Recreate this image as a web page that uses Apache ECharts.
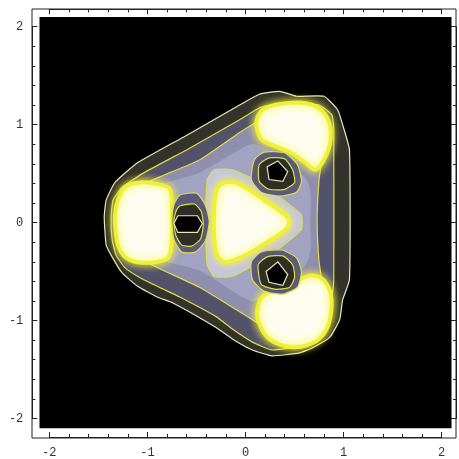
<!DOCTYPE html>
<html style="height: 100%">
<head>
<meta charset="utf-8">
</head>
<body style="height: 100%; margin: 0; background: #fff">
<div id="container" style="width: 459px; height: 459px"></div>
<script src="https://cdn.jsdelivr.net/npm/echarts@6/dist/echarts.min.js"></script>
<script type="text/javascript">
// contour lines, outer to inner, in plot units
var tickValues = [-2, -1, 0, 1, 2];
var plotRange = [[-2.1, -2.1], [2.1, -2.1], [2.1, 2.1], [-2.1, 2.1]];

var contour1 = [[-1.44, 0.06], [-1.42, 0.23], [-1.33, 0.41], [-1.10, 0.61], [-0.62, 0.88], [-0.06, 1.20],
    [0.14, 1.31], [0.35, 1.34], [0.52, 1.29], [0.80, 1.29], [0.94, 1.15], [0.99, 1.00], [1.06, 0.74],
    [1.06, -0.58], [0.99, -0.79], [0.96, -0.99], [0.86, -1.17], [0.68, -1.28], [0.55, -1.33], [0.27, -1.36],
    [0.07, -1.30], [-0.13, -1.19], [-0.30, -1.07], [-0.74, -0.82], [-0.90, -0.76], [-1.10, -0.65],
    [-1.26, -0.51], [-1.36, -0.35], [-1.42, -0.23]];
var contour2 = [[-1.37, 0.06], [-1.35, 0.23], [-1.26, 0.36], [-1.05, 0.50], [-0.57, 0.76], [-0.06, 1.05],
    [0.16, 1.18], [0.38, 1.22], [0.55, 1.21], [0.75, 1.20], [0.88, 1.10], [0.90, 0.95], [0.90, 0.74],
    [0.90, -0.58], [0.88, -0.77], [0.84, -0.97], [0.75, -1.11], [0.63, -1.20], [0.50, -1.27], [0.27, -1.30],
    [0.07, -1.22], [-0.13, -1.09], [-0.30, -0.96], [-0.67, -0.76], [-0.88, -0.66], [-1.08, -0.56],
    [-1.23, -0.46], [-1.32, -0.33], [-1.36, -0.17]];
var contour3 = [[-1.23, 0.01], [-1.18, 0.29], [-0.98, 0.42], [-0.47, 0.64], [-0.06, 0.92], [0.16, 1.05],
    [0.55, 1.10], [0.77, 1.00], [0.79, 0.74], [0.75, 0.44], [0.73, 0.01], [0.75, -0.40], [0.79, -0.68],
    [0.77, -0.99], [0.55, -1.11], [0.19, -1.06], [-0.06, -0.91], [-0.47, -0.66], [-0.98, -0.42], [-1.18, -0.28]];
var contour4 = [[-0.98, 0.30], [-0.45, 0.52], [-0.10, 0.72], [0.10, 0.80], [0.62, 0.44], [0.66, 0.01],
    [0.62, -0.42], [0.10, -0.80], [-0.10, -0.72], [-0.45, -0.50], [-0.98, -0.30]];
var centerRim = [[-0.39, 0.44], [-0.32, 0.54], [-0.14, 0.54], [0.09, 0.44], [0.35, 0.26], [0.57, 0.08],
    [0.57, -0.07], [0.35, -0.26], [0.09, -0.43], [-0.14, -0.55], [-0.32, -0.55], [-0.39, -0.43], [-0.41, 0.01]];
var centerPeak = [[-0.29, 0.34], [-0.21, 0.41], [-0.06, 0.39], [0.19, 0.23], [0.43, 0.05], [0.43, -0.05],
    [0.19, -0.22], [-0.06, -0.36], [-0.21, -0.40], [-0.29, -0.33], [-0.32, -0.12], [-0.32, 0.13]];
var lobeLeft = [[-1.30, 0.23], [-1.23, 0.36], [-1.08, 0.41], [-0.88, 0.39], [-0.77, 0.34], [-0.75, 0.13],
    [-0.75, -0.17], [-0.79, -0.36], [-0.98, -0.41], [-1.18, -0.38], [-1.28, -0.28], [-1.32, -0.12], [-1.33, 0.08]];
var lobeUpper = [[0.11, 1.02], [0.17, 1.15], [0.35, 1.21], [0.60, 1.22], [0.77, 1.15], [0.86, 1.00],
    [0.86, 0.80], [0.80, 0.64], [0.71, 0.54], [0.60, 0.62], [0.45, 0.72], [0.30, 0.78], [0.16, 0.85]];
var lobeLower = [[0.12, -0.96], [0.16, -0.77], [0.30, -0.68], [0.50, -0.60], [0.67, -0.54], [0.79, -0.58],
    [0.87, -0.73], [0.86, -0.99], [0.77, -1.17], [0.60, -1.26], [0.40, -1.26], [0.22, -1.17]];
var holeLeftA = [[-0.67, 0.28], [-0.50, 0.30], [-0.41, 0.18], [-0.37, 0.01], [-0.41, -0.19], [-0.51, -0.30],
    [-0.65, -0.30], [-0.73, -0.17], [-0.75, 0.01], [-0.73, 0.18]];
var holeLeftB = [[-0.67, 0.17], [-0.52, 0.19], [-0.45, 0.11], [-0.43, -0.02], [-0.46, -0.17], [-0.55, -0.24],
    [-0.65, -0.23], [-0.71, -0.13], [-0.73, 0.01], [-0.71, 0.11]];
var holeLeftC = [[-0.69, 0.07], [-0.49, 0.07], [-0.44, -0.01], [-0.49, -0.10], [-0.69, -0.10], [-0.73, -0.01]];
var holeUpperA = [[0.09, 0.64], [0.19, 0.72], [0.40, 0.71], [0.53, 0.59], [0.57, 0.42], [0.52, 0.31],
    [0.35, 0.27], [0.16, 0.31], [0.06, 0.44]];
var holeUpperB = [[0.14, 0.59], [0.24, 0.66], [0.40, 0.65], [0.48, 0.54], [0.50, 0.41], [0.40, 0.34],
    [0.24, 0.34], [0.14, 0.42]];
var holeUpperC = [[0.22, 0.57], [0.33, 0.63], [0.43, 0.52], [0.38, 0.42], [0.24, 0.44]];
var holeLowerA = [[0.06, -0.40], [0.16, -0.30], [0.37, -0.28], [0.52, -0.36], [0.57, -0.50], [0.53, -0.66],
    [0.38, -0.73], [0.19, -0.70], [0.07, -0.58]];
var holeLowerB = [[0.13, -0.43], [0.22, -0.35], [0.38, -0.34], [0.48, -0.43], [0.50, -0.56], [0.45, -0.66],
    [0.30, -0.68], [0.16, -0.63]];
var holeLowerC = [[0.21, -0.50], [0.33, -0.40], [0.43, -0.53], [0.38, -0.64], [0.24, -0.61]];

var lineWhite = '#e8e8b4', lineYellow = '#dede44';
var shapes = [
    {pts: plotRange, fill: '#000000', stroke: null, w: 0},
    {pts: contour1, fill: '#33332c', stroke: lineWhite, w: 1.2, smooth: 0.15},
    {pts: contour2, fill: '#52526a', stroke: lineYellow, w: 1.2, smooth: 0.15},
    {pts: contour3, fill: '#8e8eae', stroke: lineYellow, w: 1.2, smooth: 0.15},
    {pts: contour4, fill: '#a2a2c2', stroke: null, w: 0, smooth: 0.3},
    {pts: centerRim, fill: '#c6c6de', stroke: lineYellow, w: 1.2, smooth: 0.15},
    {pts: centerPeak, fill: '#fdfdf0', stroke: '#f0f034', w: 4, glow: true},
    {pts: lobeLeft, fill: '#fdfdf0', stroke: '#f0f034', w: 4, glow: true},
    {pts: lobeUpper, fill: '#fdfdf0', stroke: '#f0f034', w: 4, glow: true},
    {pts: lobeLower, fill: '#fdfdf0', stroke: '#f0f034', w: 4, glow: true},
    {pts: holeLeftA, fill: '#5a5a7a', stroke: lineYellow, w: 1.2, smooth: 0.2},
    {pts: holeUpperA, fill: '#5a5a7a', stroke: lineYellow, w: 1.2, smooth: 0.2},
    {pts: holeLowerA, fill: '#5a5a7a', stroke: lineYellow, w: 1.2, smooth: 0.2},
    {pts: holeLeftB, fill: '#2e2e26', stroke: lineYellow, w: 1.2, smooth: 0.2},
    {pts: holeUpperB, fill: '#2e2e26', stroke: lineYellow, w: 1.2, smooth: 0.2},
    {pts: holeLowerB, fill: '#2e2e26', stroke: lineYellow, w: 1.2, smooth: 0.2},
    {pts: holeLeftC, fill: '#000000', stroke: lineWhite, w: 1.2},
    {pts: holeUpperC, fill: '#000000', stroke: lineWhite, w: 1.2},
    {pts: holeLowerC, fill: '#000000', stroke: lineWhite, w: 1.2}
];

var dom = document.getElementById('container');
var myChart = echarts.init(dom);
var tickFont = {fontFamily: 'Liberation Mono', fontSize: 12, color: '#333'};

function frameAxis(pos, offset) {
    var isX = pos === 'top' || pos === 'bottom';
    return {
        type: 'value', gridIndex: 1, position: pos, offset: offset,
        min: tickValues[0], max: tickValues[tickValues.length - 1], interval: 1,
        axisLine: {show: true, onZero: false, lineStyle: {color: '#222', width: 1}},
        axisTick: {show: true, inside: true, length: 5, lineStyle: {color: '#222'}},
        minorTick: {show: true, splitNumber: 5, length: 3, lineStyle: {color: '#222'}},
        splitLine: {show: false},
        axisLabel: (pos === 'bottom' || pos === 'left') ? Object.assign({show: true, margin: isX ? 10 : 9}, tickFont) : {show: false}
    };
}

option = {
    animation: false,
    backgroundColor: '#fff',
    grid: [
        {left: 32, top: 9, width: 424, height: 429, show: true, borderColor: '#222', borderWidth: 1, backgroundColor: 'transparent'},
        {left: 49.3, top: 26.7, width: 392.4, height: 392.6}
    ],
    xAxis: [
        {type: 'value', gridIndex: 0, show: false, min: 0, max: 1},
        frameAxis('bottom', 18.5),
        frameAxis('top', 17.4)
    ],
    yAxis: [
        {type: 'value', gridIndex: 0, show: false, min: 0, max: 1},
        frameAxis('left', 17),
        frameAxis('right', 14.3)
    ],
    series: [{
        type: 'custom',
        xAxisIndex: 1,
        yAxisIndex: 1,
        clip: false,
        silent: true,
        z: 1,
        data: shapes.map(function () { return [0, 0]; }),
        renderItem: function (params, api) {
            var s = shapes[params.dataIndex];
            var points = s.pts.map(function (p) { return api.coord(p); });
            var style = {fill: s.fill, stroke: s.stroke || 'none', lineWidth: s.w};
            if (s.glow) {
                style.shadowBlur = 9;
                style.shadowColor = '#f8f840';
            }
            return {type: 'polygon', shape: {points: points, smooth: s.glow ? 0.3 : (s.smooth || 0)}, style: style};
        }
    }]
};
myChart.setOption(option, true);
</script>
</body>
</html>
